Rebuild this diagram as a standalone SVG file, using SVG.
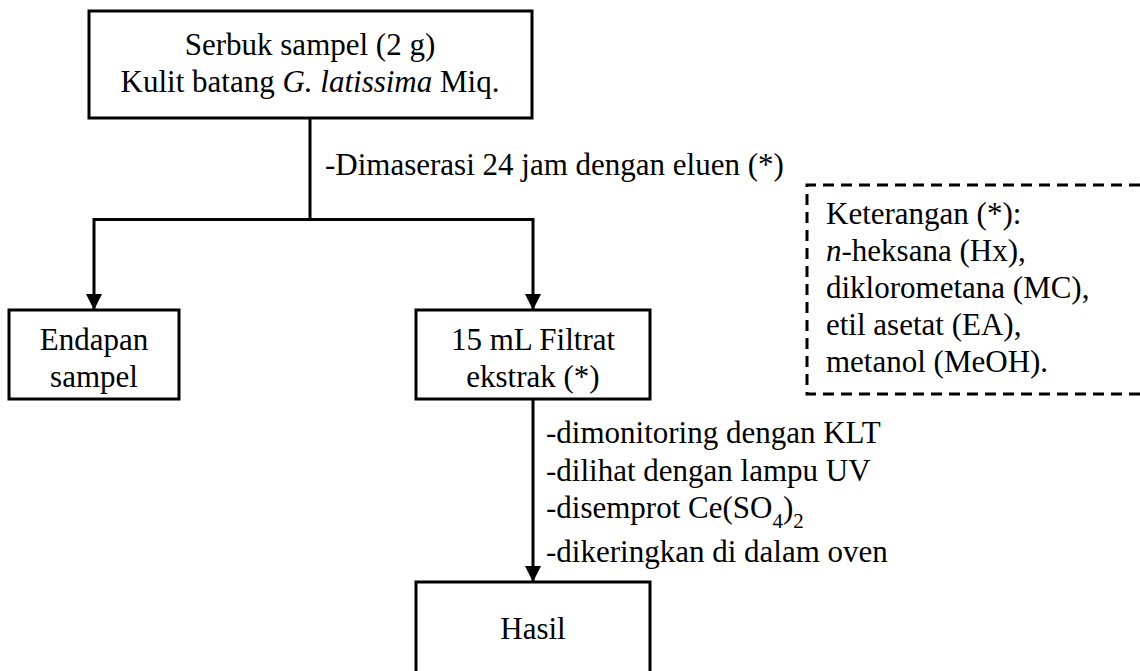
<svg xmlns="http://www.w3.org/2000/svg" width="1140" height="671" viewBox="0 0 1140 671">
<style>
.c{text-anchor:middle}
.box{fill:#fff;stroke:#000;stroke-width:3}
.ln{fill:none;stroke:#000;stroke-width:3}
.dash{fill:none;stroke:#000;stroke-width:3;stroke-dasharray:11 7}
</style>
<defs>
<marker id="ah" markerUnits="userSpaceOnUse" markerWidth="16" markerHeight="16" viewBox="0 0 16 16" refX="16" refY="8" orient="auto">
<path d="M0,0 L16,8 L0,16 Z" fill="#000"/>
</marker>
</defs>
<g font-family="'Liberation Serif', 'Times New Roman', serif" font-size="31" fill="#000">
<g id="connectors">
<path class="ln" d="M310,118 V219.5"/>
<path class="ln" d="M94,219.5 H533"/>
<path class="ln" d="M94,218 V310" marker-end="url(#ah)"/>
<path class="ln" d="M533,218 V310" marker-end="url(#ah)"/>
<path class="ln" d="M533,399 V582" marker-end="url(#ah)"/>
<text x="325" y="175">-Dimaserasi 24 jam dengan eluen (*)</text>
<text x="546" y="443">-dimonitoring dengan KLT</text>
<text x="546" y="481">-dilihat dengan lampu UV</text>
<text x="546" y="518">-disemprot Ce(SO<tspan font-size="21" dy="10">4</tspan><tspan dy="-10">)</tspan><tspan font-size="21" dy="10">2</tspan></text>
<text x="546" y="562">-dikeringkan di dalam oven</text>
</g>
<g id="node-sample">
<rect class="box" x="89" y="11" width="443" height="107"/>
<text class="c" x="310" y="55">Serbuk sampel (2 g)</text>
<text class="c" x="310" y="92">Kulit batang <tspan font-style="italic">G. latissima</tspan> Miq.</text>
</g>
<g id="node-endapan">
<rect class="box" x="9" y="310" width="170" height="89"/>
<text class="c" x="94" y="350">Endapan</text>
<text class="c" x="94" y="387">sampel</text>
</g>
<g id="node-filtrat">
<rect class="box" x="416" y="310" width="234" height="89"/>
<text class="c" x="533" y="350">15 mL Filtrat</text>
<text class="c" x="533" y="387">ekstrak (*)</text>
</g>
<g id="node-hasil">
<rect class="box" x="416" y="582" width="234" height="120"/>
<text class="c" x="533" y="639">Hasil</text>
</g>
<g id="note">
<path class="dash" d="M1140,185 H807 V394 H1140"/>
<text x="826" y="224">Keterangan (*):</text>
<text x="826" y="261"><tspan font-style="italic">n</tspan>-heksana (Hx),</text>
<text x="826" y="298">diklorometana (MC),</text>
<text x="826" y="335">etil asetat (EA),</text>
<text x="826" y="372">metanol (MeOH).</text>
</g>
</g>
</svg>
